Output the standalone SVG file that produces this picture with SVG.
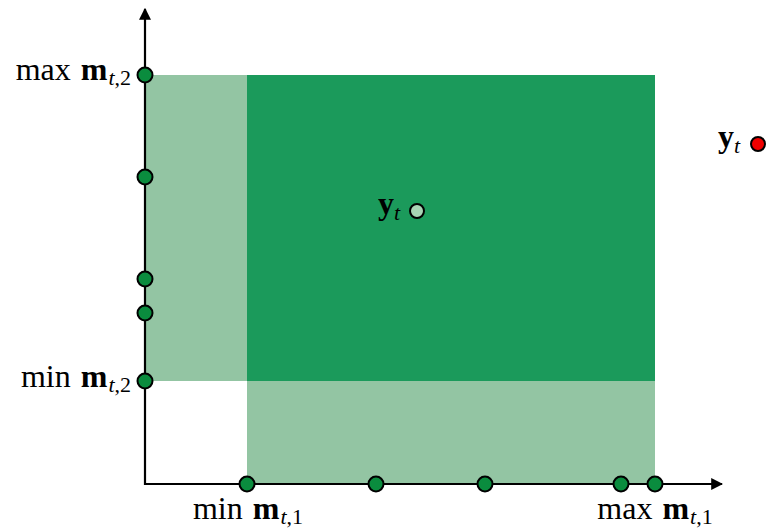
<svg xmlns="http://www.w3.org/2000/svg" width="767" height="529" viewBox="0 0 767 529">
<defs>
<style>
.lbl{font-family:"Liberation Serif","DejaVu Serif",serif;font-size:32px;fill:#000}
.b{font-weight:bold}
.sub{font-size:22px;font-style:italic}
.subn{font-size:22px}
.dot{fill:#0a8c3e;stroke:#000;stroke-width:2}
.axis{stroke:#000;stroke-width:2.2;fill:none}
</style>
<marker id="arr" viewBox="0 0 10 10" refX="9" refY="5" markerWidth="12" markerHeight="12" markerUnits="userSpaceOnUse" orient="auto">
<path d="M0,0 L10,5 L0,10 z" fill="#000"/>
</marker>
</defs>
<g id="regions">
<rect x="145" y="75" width="102" height="306" fill="#93c5a3"/>
<rect x="247" y="381" width="408" height="103" fill="#93c5a3"/>
<rect x="247" y="75" width="408" height="306" fill="#1b9a5b"/>
</g>
<g id="connectors">
<line class="axis" x1="145" y1="485" x2="145" y2="9" marker-end="url(#arr)"/>
<line class="axis" x1="144" y1="484" x2="722" y2="484" marker-end="url(#arr)"/>
</g>
<g id="ydots">
<circle class="dot" cx="145" cy="75" r="7.5"/>
<circle class="dot" cx="145" cy="177" r="7.5"/>
<circle class="dot" cx="145" cy="279" r="7.5"/>
<circle class="dot" cx="145" cy="313" r="7.5"/>
<circle class="dot" cx="145" cy="381" r="7.5"/>
</g>
<g id="xdots">
<circle class="dot" cx="247" cy="484" r="7.5"/>
<circle class="dot" cx="376" cy="484" r="7.5"/>
<circle class="dot" cx="485" cy="484" r="7.5"/>
<circle class="dot" cx="621" cy="484" r="7.5"/>
<circle class="dot" cx="655" cy="484" r="7.5"/>
</g>
<g id="label-max-m2">
<text class="lbl" x="131" y="80" text-anchor="end">max <tspan class="b" dx="2">m</tspan><tspan class="sub" dy="5" dx="1">t</tspan><tspan class="subn">,2</tspan></text>
</g>
<g id="label-min-m2">
<text class="lbl" x="131" y="387" text-anchor="end">min <tspan class="b" dx="2">m</tspan><tspan class="sub" dy="5" dx="1">t</tspan><tspan class="subn">,2</tspan></text>
</g>
<g id="label-min-m1">
<text class="lbl" x="248" y="519" text-anchor="middle">min <tspan class="b" dx="2">m</tspan><tspan class="sub" dy="5" dx="1">t</tspan><tspan class="subn">,1</tspan></text>
</g>
<g id="label-max-m1">
<text class="lbl" x="655" y="519" text-anchor="middle">max <tspan class="b" dx="2">m</tspan><tspan class="sub" dy="5" dx="1">t</tspan><tspan class="subn">,1</tspan></text>
</g>
<g id="yt-inside">
<text class="lbl" x="378" y="214"><tspan class="b">y</tspan><tspan class="sub" dy="6">t</tspan></text>
<circle cx="417" cy="211" r="7" fill="#a8d5b5" stroke="#000" stroke-width="2"/>
</g>
<g id="yt-outside">
<text class="lbl" x="718" y="147"><tspan class="b">y</tspan><tspan class="sub" dy="6">t</tspan></text>
<circle cx="758" cy="144" r="7" fill="#f00000" stroke="#000" stroke-width="2"/>
</g>
</svg>
